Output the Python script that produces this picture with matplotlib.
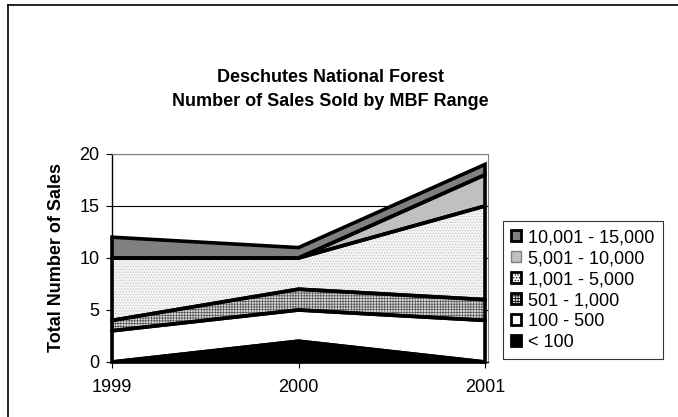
import matplotlib
matplotlib.use("Agg")
import matplotlib.pyplot as plt
from matplotlib.patches import Patch
import numpy as np

plt.rcParams["font.family"] = ["Liberation Sans", "DejaVu Sans"]
plt.rcParams["hatch.linewidth"] = 0.5

years = ["1999", "2000", "2001"]
labels = ["< 100", "100 - 500", "501 - 1,000", "1,001 - 5,000",
          "5,001 - 10,000", "10,001 - 15,000"]
lt_100 = [0, 2, 0]
s_100_500 = [3, 3, 4]
s_501_1000 = [1, 2, 2]
s_1001_5000 = [6, 3, 9]
s_5001_10000 = [0, 0, 3]
s_10001_15000 = [2, 1, 1]
series = [lt_100, s_100_500, s_501_1000, s_1001_5000, s_5001_10000,
          s_10001_15000]

# face colour, hatch, hatch colour
styles = [("black", None, "black"),
          ("white", None, "white"),
          ("#d8d8d8", "++++++", "#555555"),
          ("#f4f4f4", "......", "#c4c4c4"),
          ("#c0c0c0", None, "#c0c0c0"),
          ("#808080", None, "#808080")]

fig = plt.figure(figsize=(6.78, 4.17), dpi=100)
ax = fig.add_axes([112 / 678, 1 - 362 / 417, 376 / 678, 208 / 417])

x = np.arange(len(years))
base = np.zeros(len(years))
for vals, (fc, hatch, hc) in zip(series, styles):
    top = base + np.array(vals, dtype=float)
    ax.fill_between(x, base, top, facecolor=fc, hatch=hatch, edgecolor=hc,
                    linewidth=0, zorder=2)
    ax.fill_between(x, base, top, facecolor="none", edgecolor="black",
                    linewidth=2.6, joinstyle="miter", zorder=3, clip_on=False)
    base = top

ax.set_xlim(0, 2.016)
ax.set_ylim(0, 20)
ax.set_xticks(x)
ax.set_xticklabels(years)
ax.set_yticks([0, 5, 10, 15, 20])
ax.tick_params(axis="both", labelsize=13, direction="out", length=4,
               width=0.8, color="black")
ax.tick_params(axis="x", pad=8)
ax.tick_params(axis="y", pad=5)
ax.yaxis.grid(True, color="black", linewidth=0.8)
ax.set_axisbelow(True)
for side in ["top", "right"]:
    ax.spines[side].set_color("#808080")
for side in ["left", "bottom"]:
    ax.spines[side].set_color("black")
    ax.spines[side].set_linewidth(1.0)
ax.set_ylabel("Total Number of Sales", fontsize=13, fontweight="bold",
              labelpad=10)

fig.text(0.487, 1 - 77 / 417, "Deschutes National Forest", ha="center",
         va="center", fontsize=13, fontweight="bold")
fig.text(0.487, 1 - 101 / 417, "Number of Sales Sold by MBF Range",
         ha="center", va="center", fontsize=13, fontweight="bold")

handles = []
for (fc, hatch, hc), lab in zip(styles, labels):
    if lab == "5,001 - 10,000":
        handles.append(Patch(facecolor=fc, edgecolor="#808080", linewidth=1,
                             label=lab))
    else:
        handles.append(Patch(facecolor=fc, hatch=hatch, edgecolor="black",
                             linewidth=2, label=lab))
leg = fig.legend(handles[::-1], labels[::-1], loc="upper left",
                 bbox_to_anchor=(503 / 678, 1 - 221 / 417), fontsize=13,
                 frameon=True, fancybox=False, shadow=False,
                 handlelength=0.55, handleheight=0.55, handletextpad=0.4,
                 labelspacing=0.22, borderpad=0.45, borderaxespad=0)
leg.get_frame().set_edgecolor("black")
leg.get_frame().set_linewidth(0.8)

# chart area border (left and top only visible)
fig.add_artist(plt.Line2D([8 / 678, 8 / 678], [0, 1 - 5 / 417],
                          color="black", linewidth=1.2))
fig.add_artist(plt.Line2D([8 / 678, 1], [1 - 5 / 417, 1 - 5 / 417],
                          color="black", linewidth=1.2))

fig.savefig("out.png", dpi=100)
